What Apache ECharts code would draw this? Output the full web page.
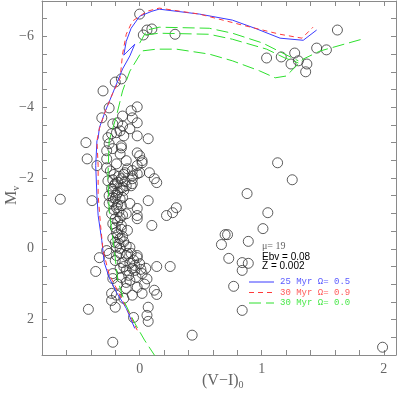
<!DOCTYPE html>
<html><head><meta charset="utf-8">
<script src="https://cdn.jsdelivr.net/npm/echarts@6/dist/echarts.min.js"></script>
<style>html,body{margin:0;padding:0;background:#fff}#c{width:400px;height:395px}</style>
</head><body><div id="c"></div>
<script>
// Observed stars: [(V-I)0, Mv]
const stars = [
[0.00,-6.63],[0.06,-6.18],[0.10,-6.21],[0.03,-6.04],[0.29,-6.06],
[-0.15,-4.80],[-0.20,-4.71],[-0.30,-4.46],[-0.25,-3.98],[-0.02,-4.01],[-0.07,-3.90],
[-0.31,-3.70],[-0.14,-3.75],[-0.06,-3.70],[-0.18,-3.56],[-0.22,-3.53],[-0.14,-3.47],[-0.02,-3.56],
[-0.08,-3.39],[-0.16,-3.33],[-0.23,-3.25],[-0.26,-3.14],[-0.44,-3.00],[0.07,-3.11],[-0.25,-2.97],
[-0.15,-2.85],[-0.27,-2.77],[-0.16,-2.68],[-0.02,-2.71],[0.00,-2.63],[0.02,-2.49],[-0.43,-2.54],
[-0.27,-2.54],[-0.27,-2.29],[-0.11,-2.49],[-0.10,-2.26],[-0.06,-2.21],[0.00,-2.15],[0.12,-1.98],
[0.14,-1.87],[0.08,-2.15],[-0.02,-3.19],[-0.19,-3.28],[-0.13,-3.19],[-0.15,-2.91],[-0.22,-2.83],
[-0.35,-2.35],[-0.19,-2.40],[-0.02,-2.35],[0.02,-2.43],[-0.06,-2.06],[-0.02,-2.12],[-0.26,-1.92],
[-0.20,-1.84],[-0.15,-1.98],[-0.11,-1.78],[-0.06,-1.84],[-0.23,-1.70],[-0.18,-1.59],[-0.25,-1.50],
[-0.14,-1.45],[-0.20,-1.42],[-0.39,-1.36],[0.07,-1.36],[-0.08,-1.28],[-0.15,-1.22],[-0.25,-1.28],
[-0.19,-1.16],[-0.11,-0.99],[-0.02,-0.94],[-0.23,-0.99],[-0.16,-0.88],[-0.22,-0.71],[-0.15,-0.66],
[0.10,-0.66],[0.22,-0.94],[-0.10,-0.52],[-0.19,-0.46],[-0.16,-0.29],[-0.20,-0.18],[-0.11,-0.09],
[-0.08,-0.04],[-0.16,-0.01],[-0.19,0.19],[-0.10,0.13],[-0.02,0.19],
[-0.21,-2.10],[-0.17,-2.05],[-0.22,-1.95],[-0.18,-1.88],[-0.21,-1.78],[-0.16,-1.72],[-0.22,-1.62],
[-0.19,-1.52],[-0.16,-1.40],[-0.22,-1.33],[-0.18,-1.25],[-0.21,-1.10],[-0.17,-1.05],[-0.14,-0.95],
[-0.20,-0.85],[-0.18,-0.78],[-0.15,-0.55],[-0.20,-0.60],[-0.18,-0.40],[-0.14,-0.35],[-0.22,-0.30],
[-0.17,-0.15],[-0.13,-0.20],[-0.19,-0.05],[-0.22,-1.45],[-0.13,-1.65],[-0.12,-1.90],[-0.24,-2.20],[-0.13,-2.10],
[-0.65,-1.40],[-0.12,-2.15],[-0.06,-1.98],[-0.07,-1.78],[-0.14,-1.73],[-0.02,-1.14],[-0.02,-0.85],
[0.30,-1.16],[0.27,-1.02],
[1.13,-2.43],[1.25,-1.95],[0.88,-1.56],[1.05,-1.02],[1.01,-0.57],[0.72,-0.40],[0.70,-0.40],
[0.67,-0.12],[0.89,-0.21],[0.73,0.27],[0.84,0.39],[0.89,0.41],[0.84,0.61],[0.77,1.06],[0.84,1.74],
[1.99,2.78],[0.14,0.50],[0.25,0.50],
[1.62,-6.18],[1.45,-5.67],[1.53,-5.62],[1.04,-5.39],[1.16,-5.42],[1.27,-5.53],[1.24,-5.22],
[1.30,-5.31],[1.37,-5.22],[1.36,-5.00],
[-0.33,0.25],[-0.36,0.64],[0.02,0.70],[-0.08,0.89],[-0.22,0.84],[-0.02,1.09],[-0.11,1.12],[0.02,1.26],[0.12,1.17],
[0.14,1.29],[-0.23,1.26],[-0.19,1.31],[-0.23,1.46],[-0.42,1.71],[-0.20,1.65],[-0.06,1.31],[0.07,1.65],
[-0.05,1.94],[0.06,1.88],[0.07,2.05],[-0.22,2.64],[0.43,2.44],
[-0.25,0.13],[-0.16,0.13],[-0.11,0.19],[-0.07,0.13],[-0.02,0.25],[-0.20,0.33],[-0.14,0.39],[-0.08,0.41],
[-0.04,0.47],[-0.16,0.55],[-0.11,0.61],[-0.04,0.61],[-0.22,0.70],[-0.15,0.81],[-0.11,0.95],
[-0.27,0.05],[-0.05,0.32],[0.00,0.42],[0.05,0.55],[-0.13,0.50],[-0.09,0.75],[-0.18,1.00],
[0.06,0.85],[-0.03,0.80],[0.04,1.00],[-0.06,0.55],[0.01,0.58],[-0.13,1.40]
];

// Isochrones
const iso25_05 = [
[-0.04,2.25],[-0.11,1.68],[-0.19,1.23],[-0.25,0.81],[-0.29,0.39],[-0.31,-0.23],[-0.34,-0.94],
[-0.35,-1.50],[-0.36,-2.35],[-0.35,-3.05],[-0.34,-3.12],[-0.35,-3.08],[-0.33,-3.42],[-0.28,-3.90],[-0.22,-4.40],
[-0.18,-4.74],[-0.14,-5.08],[-0.08,-5.45],[-0.04,-5.78],[-0.13,-5.47],[-0.11,-5.86],[-0.07,-6.23],
[0.00,-6.57],[0.10,-6.71],[0.16,-6.77],[0.49,-6.63],[0.76,-6.46],[0.96,-6.21],[1.15,-5.95],
[1.34,-5.89],[1.45,-6.18]
];
const iso30_09 = [
[-0.02,2.30],[-0.09,1.79],[-0.16,1.32],[-0.25,0.72],[-0.30,0.05],[-0.32,-0.66],[-0.34,-1.50],
[-0.34,-2.35],[-0.35,-3.05],[-0.33,-3.39],[-0.28,-3.90],[-0.22,-4.40],[-0.16,-4.82],[-0.14,-5.50],
[-0.11,-6.06],[-0.06,-6.43],[0.06,-6.71],[0.16,-6.80],[0.49,-6.63],[0.84,-6.32],[1.15,-6.06],
[1.33,-5.95],[1.42,-6.26]
];
const iso30_00_main = [
[0.13,3.05],[0.04,2.58],[-0.04,2.10],[-0.12,1.54],[-0.18,0.89],[-0.20,0.25],[-0.25,-1.08],
[-0.26,-2.01],[-0.25,-3.05],[-0.19,-3.75],[-0.14,-4.46],[-0.08,-5.02],[-0.02,-5.36],[0.02,-5.59],
[0.14,-5.64],[0.30,-5.64],[0.57,-5.50],[0.76,-5.31],[0.98,-5.03],[1.11,-4.83],[1.20,-4.88],
[1.34,-5.36],[1.48,-5.59],[1.82,-5.92]
];
const iso30_00_loopA = [
[0.00,-5.81],[0.06,-6.18],[0.16,-6.26],[0.57,-6.23],[0.76,-6.09],[1.01,-5.81],[1.17,-5.53],[1.30,-5.31]
];
const iso30_00_loopB = [
[0.05,-6.04],[0.16,-6.09],[0.57,-6.06],[0.76,-5.92],[1.04,-5.64],[1.19,-5.39],[1.30,-5.25]
];

const nameBlue = '25 Myr \u03a9= 0.5';
const nameRed = '30 Myr \u03a9= 0.9';
const nameGreen = '30 Myr \u03a9= 0.0';
const cBlue = '#3a3aff', cRed = '#ff3a3a', cGreen = '#2ee02e';
const tBlue = '#5a5aff', tRed = '#ff5a5a', tGreen = '#4ae84a';
const dashRed = [5,4], dashGreen = [12,5];

const chart = echarts.init(document.getElementById('c'), null, {renderer:'canvas'});
const axisCol = '#8a8a8a';
const labelFont = {color:'#666', fontFamily:'Liberation Serif', fontSize:14};
function xAx(pos, showLabel){
  return {type:'value', position:pos, min:-0.8, max:2.1, interval:0.2,
    axisLine:{show:true, onZero:false, lineStyle:{color:axisCol}},
    axisTick:{show:true, inside:true, length:5, lineStyle:{color:axisCol}},
    splitLine:{show:false},
    axisLabel:{show:showLabel, margin:7, ...labelFont,
      formatter:v=>Math.abs(v-Math.round(v))<1e-6 ? String(Math.round(v)) : ''}};
}
function yAx(pos, showLabel){
  return {type:'value', position:pos, min:-7, max:3, interval:0.5, inverse:true,
    axisLine:{show:true, onZero:false, lineStyle:{color:axisCol}},
    axisTick:{show:true, inside:true, length:5, lineStyle:{color:axisCol}},
    splitLine:{show:false},
    axisLabel:{show:showLabel, margin:8, ...labelFont,
      formatter:v=>{const r=Math.round(v); if(Math.abs(v-r)>1e-6||r%2!==0||r<-6) return ''; return r<0?'\u2212'+(-r):String(r);}}};
}
function lineSeries(name, data, color, type, lw){
  return {type:'line', name, data, xAxisIndex:0, yAxisIndex:0, symbol:'none', showSymbol:false, smooth:false,
    lineStyle:{color, width:lw, type}, itemStyle:{color}, z:3, silent:true, animation:false, clip:true};
}
// legend key drawn as graphic samples + text
const legendRows = [[nameBlue, cBlue, 'solid', tBlue], [nameRed, cRed, dashRed, tRed], [nameGreen, cGreen, dashGreen, tGreen]];
const legendGraphics = [];
legendRows.forEach((r, i) => {
  const y = 282 + i * 10.5;
  legendGraphics.push({type:'line', shape:{x1:249, y1:y, x2:274, y2:y}, style:{stroke:r[1], lineWidth:1, lineDash:r[2]==='solid'?null:r[2]}, silent:true});
  legendGraphics.push({type:'text', x:280, y:y, style:{text:r[0], font:'9px "Liberation Mono"', fill:r[3], verticalAlign:'middle'}, silent:true});
});
chart.setOption({
  animation:false,
  grid:{left:42, right:4, top:1, bottom:40},
  xAxis:[xAx('bottom', true), xAx('top', false)],
  yAxis:[yAx('left', true), yAx('right', false)],
  series:[
    {type:'scatter', name:'stars', data:stars, symbol:'circle', symbolSize:10,
      itemStyle:{color:'rgba(0,0,0,0)', borderColor:'#333', borderWidth:1}, z:2, silent:true},
    lineSeries(nameBlue, iso25_05, cBlue, 'solid', 1),
    lineSeries(nameRed, iso30_09, cRed, dashRed, 1),
    lineSeries(nameGreen, iso30_00_main, cGreen, dashGreen, 1),
    lineSeries(nameGreen, iso30_00_loopA, cGreen, dashGreen, 1),
    lineSeries(nameGreen, iso30_00_loopB, cGreen, dashGreen, 1)
  ],
  graphic:[
    {type:'text', left:262, top:241, style:{text:'\u03bc= 19', font:'10px "Liberation Serif"', fill:'#666'}},
    {type:'text', left:262, top:252, style:{text:'Ebv = 0.08', font:'10px "Liberation Sans"', fill:'#000'}},
    {type:'text', left:262, top:261, style:{text:'Z = 0.002', font:'10px "Liberation Sans"', fill:'#000'}},
    {type:'text', x:202, y:372, style:{text:'(V\u2212I){s|0}', rich:{s:{fontSize:10, fontFamily:'Liberation Serif', fill:'#666', padding:[8,0,0,0]}}, font:'16px "Liberation Serif"', fill:'#666'}},
    {type:'text', x:3, y:205, rotation:Math.PI/2, style:{text:'M{s|v}', rich:{s:{fontSize:10, fontFamily:'Liberation Serif', fill:'#666', padding:[8,0,0,0]}}, font:'16px "Liberation Serif"', fill:'#666'}},
    ...legendGraphics
  ]
});
</script></body></html>
